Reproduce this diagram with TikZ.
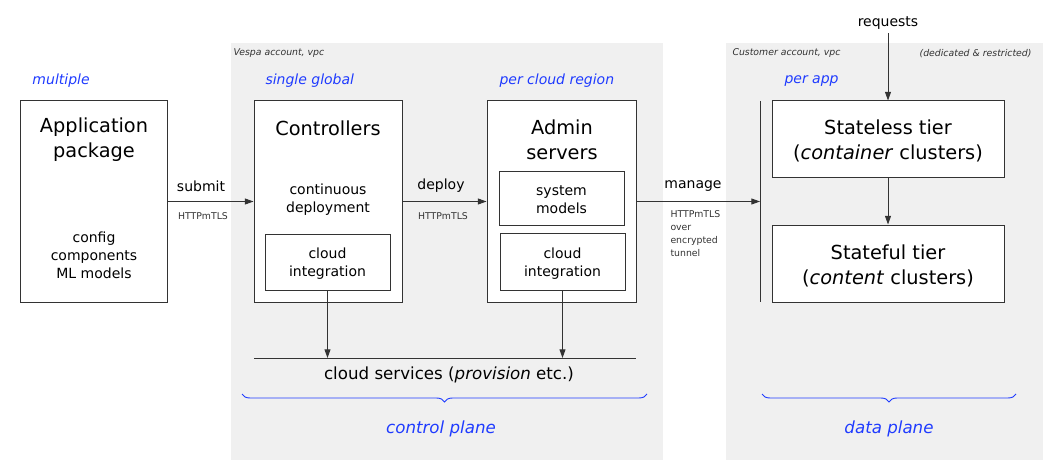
\documentclass[tikz,border=0pt]{standalone}
\usepackage{fontspec}
\setmainfont{DejaVu Sans}
\usepackage{tikz}
\usetikzlibrary{fit,arrows.meta,decorations.pathreplacing}

\definecolor{bggray}{HTML}{F0F0F0}
\definecolor{planeblue}{HTML}{1F3BFF}
\definecolor{ink}{HTML}{333333}

\begin{document}
\begin{tikzpicture}[x=0.75pt, y=-0.75pt, line width=0.75pt,
    box/.style={draw=ink, fill=white, inner sep=0pt, align=center},
    txt/.style={inner sep=0pt, align=center, text=black, yshift=-1.6pt},
    big/.style={font=\fontsize{14.5}{18.75}\selectfont},
    mid/.style={font=\fontsize{10.5}{13.5}\selectfont},
    tiny/.style={font=\fontsize{7}{9.75}\selectfont, text=ink},
    head/.style={font=\fontsize{7}{9}\selectfont\itshape, text=ink, inner sep=0pt, yshift=-1pt},
    blue/.style={font=\fontsize{10.5}{13}\selectfont\itshape, text=planeblue, inner sep=0pt, yshift=-1.6pt},
    arr/.style={draw=ink, line width=0.7pt, -{Triangle[length=6.5pt,width=4.5pt]}},
    brace/.style={draw=planeblue, line width=0.7pt, decorate, decoration={brace, mirror, amplitude=6pt}}];
    \useasboundingbox (0,0) rectangle (1043,460);

    \fill[bggray] (231,43) rectangle (663,460);
    \fill[bggray] (726,43) rectangle (1043,460);

    \node[head, anchor=west] at (233,52) {Vespa account, vpc};
    \node[head, anchor=west] at (732,52) {Customer account, vpc};
    \node[head, anchor=east] at (1032,52) {(dedicated \& restricted)};

    \node[blue, anchor=west] at (32,79) {multiple};
    \node[blue, anchor=west] at (265,79) {single global};
    \node[blue, anchor=west] at (499,79) {per cloud region};
    \node[blue, anchor=west] at (784,79) {per app};

    % boxes
    \node[box, fit={(20,101) (167,302)}] (app) {};
    \node[txt, big] at (94,138) {Application\\package};
    \node[txt, mid] at (94,253) {config\\components\\ML models};

    \node[box, fit={(254,101) (402,302)}] (ctrl) {};
    \node[txt, big] at (328,126) {Controllers};
    \node[txt, mid] at (328,198) {continuous\\deployment};
    \node[box, fit={(265,234) (390,290)}] (cloudA) {};
    \node[txt, mid] at (cloudA) {cloud\\integration};

    \node[box, fit={(487,101) (636,302)}] (admin) {};
    \node[txt, big] at (562,138) {Admin\\servers};
    \node[box, fit={(499,171) (624,225)}] (sysmod) {};
    \node[txt, mid] at (sysmod) {system\\models};
    \node[box, fit={(500,233) (625,290)}] (cloudB) {};
    \node[txt, mid] at (cloudB) {cloud\\integration};

    \node[box, fit={(772,101) (1004,177)}] (stateless) {};
    \node[txt, big] at (stateless) {Stateless tier\\(\textit{container} clusters)};
    \node[box, fit={(772,225) (1004,302)}] (stateful) {};
    \node[txt, big] at (stateful) {Stateful tier\\(\textit{content} clusters)};

    \draw[ink] (760,101) -- (760,302);
    \coordinate (bar) at (760,201.5);

    % connectors
    \draw[arr] (app.east) -- (ctrl.west);
    \node[txt, mid] at (201,184) {submit};
    \node[txt, tiny] at (203,214) {HTTPmTLS};

    \draw[arr] (ctrl.east) -- (admin.west);
    \node[txt, mid] at (441,184) {deploy};
    \node[txt, tiny] at (443,214) {HTTPmTLS};

    \draw[arr] (admin.east) -- (bar);
    \node[txt, mid] at (693,184) {manage};
    \node[txt, tiny, anchor=north west, align=left] at (670,208) {HTTPmTLS\\over\\encrypted\\tunnel};

    \node[txt, mid] (req) at (888,21) {requests};
    \draw[arr] (req.south) ++(0,3) -- (stateless.north);
    \draw[arr] (stateless.south) -- (stateful.north);

    \coordinate (svcL) at (254,358);
    \coordinate (svcR) at (636,358);
    \draw[ink] (svcL) -- (svcR);
    \node[txt, font=\fontsize{12.5}{15}\selectfont] (svc) at (449,373) {cloud services (\textit{provision} etc.)};
    \draw[arr] (cloudA.south) -- (cloudA.south |- svcL);
    \draw[arr] (cloudB.south) -- (cloudB.south |- svcR);

    % planes
    \draw[brace] (242,394) -- (647,394);
    \node[blue, font=\fontsize{12.5}{15}\selectfont\itshape] at (441,427) {control plane};
    \draw[brace] (762,394) -- (1016,394);
    \node[blue, font=\fontsize{12.5}{15}\selectfont\itshape] at (889,427) {data plane};
\end{tikzpicture}
\end{document}
